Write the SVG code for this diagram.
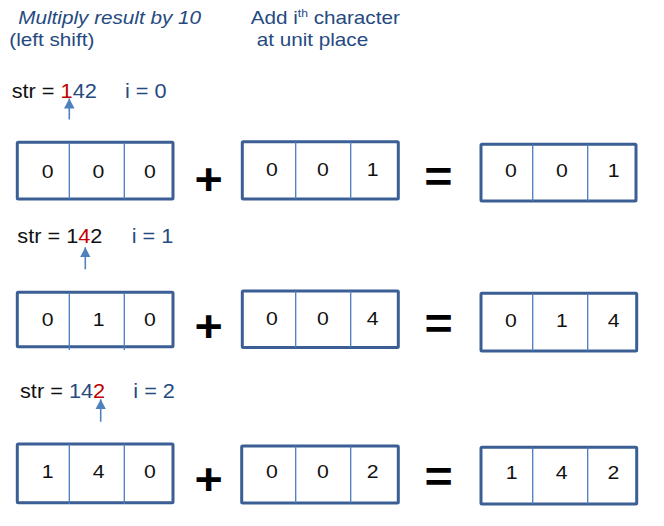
<svg xmlns="http://www.w3.org/2000/svg" width="664" height="526" viewBox="0 0 664 526">
<style>
.t{font-family:"Liberation Sans",Arial,sans-serif;}
.hd{font-size:18px;fill:#264a80;}
.st{font-size:20.5px;fill:#111111;}
.bl{fill:#264a80;}
.rd{fill:#c00000;}
.dg{font-size:18px;fill:#111111;text-anchor:middle;}
.op{font-family:"Liberation Sans",Arial,sans-serif;font-weight:bold;font-size:44px;fill:#000;text-anchor:middle;}
.box{fill:#fff;stroke:#3b5f94;stroke-width:3;}
.div{stroke:#4a7cc0;stroke-width:1.3;}
.arr{stroke:#4f81bd;stroke-width:1.6;fill:none;}
</style>
<defs>
<marker id="ah" markerWidth="12" markerHeight="12" refX="10" refY="6" orient="auto" markerUnits="userSpaceOnUse">
<path d="M0,0.7 L10,6 L0,11.3 Z" fill="#4f81bd"/>
</marker>
</defs>
<rect width="664" height="526" fill="#fff"/>

<g id="header">
<text class="t hd" font-style="italic" transform="translate(18.3 23.5) scale(1.15 1)">Multiply result by 10</text>
<text class="t hd" transform="translate(9.3 46) scale(1.15 1)">(left shift)</text>
<text class="t hd" transform="translate(250.7 23.5) scale(1.15 1)">Add i<tspan font-size="10.5" dy="-7">th</tspan><tspan dy="7"> character</tspan></text>
<text class="t hd" transform="translate(256.7 46) scale(1.15 1)">at unit place</text>
</g>

<g id="str-row1">
<text class="t st" transform="translate(11.7 98) scale(1.06 1)">str = <tspan class="rd">1</tspan><tspan class="bl">42</tspan></text>
<text class="t st bl" transform="translate(125 98) scale(1.06 1)">i = 0</text>
</g>
<g id="str-row2">
<text class="t st" transform="translate(17.3 243.3) scale(1.06 1)">str = 1<tspan class="rd">4</tspan>2</text>
<text class="t st bl" transform="translate(131.7 243.3) scale(1.06 1)">i = 1</text>
</g>
<g id="str-row3">
<text class="t st" transform="translate(20 398.3) scale(1.06 1)">str = <tspan class="bl">14</tspan><tspan class="rd">2</tspan></text>
<text class="t st bl" transform="translate(133.3 398.3) scale(1.06 1)">i = 2</text>
</g>

<g id="connectors">
<line class="arr" x1="69.3" y1="119.5" x2="69.3" y2="98.5" marker-end="url(#ah)"/>
<line class="arr" x1="85.3" y1="269.3" x2="85.3" y2="247.3" marker-end="url(#ah)"/>
<line class="arr" x1="100.7" y1="421.7" x2="100.7" y2="399.3" marker-end="url(#ah)"/>
</g>

<!-- Row 1 -->
<g id="r1a">
<rect class="box" x="17.3" y="142.3" width="155.7" height="56.7" rx="1"/>
<line class="div" x1="69.3" y1="142.3" x2="69.3" y2="199"/>
<line class="div" x1="124.3" y1="142.3" x2="124.3" y2="199"/>
<text class="t dg" transform="translate(47.7 177.7) scale(1.18 1)">0</text>
<text class="t dg" transform="translate(98.3 177.7) scale(1.18 1)">0</text>
<text class="t dg" transform="translate(150 177.7) scale(1.18 1)">0</text>
</g>
<g id="r1b">
<rect class="box" x="242.3" y="141.7" width="156" height="57.3" rx="1"/>
<line class="div" x1="295.7" y1="141.7" x2="295.7" y2="199"/>
<line class="div" x1="350.7" y1="141.7" x2="350.7" y2="199"/>
<text class="t dg" transform="translate(272 175.7) scale(1.18 1)">0</text>
<text class="t dg" transform="translate(323 175.7) scale(1.18 1)">0</text>
<text class="t dg" transform="translate(372.7 175.7) scale(1.18 1)">1</text>
</g>
<g id="r1c">
<rect class="box" x="481" y="144.3" width="155" height="56.7" rx="1"/>
<line class="div" x1="532.7" y1="144.3" x2="532.7" y2="201"/>
<line class="div" x1="587.7" y1="144.3" x2="587.7" y2="201"/>
<text class="t dg" transform="translate(511 176.7) scale(1.18 1)">0</text>
<text class="t dg" transform="translate(562 176.7) scale(1.18 1)">0</text>
<text class="t dg" transform="translate(613.7 176.7) scale(1.18 1)">1</text>
</g>

<!-- Row 2 -->
<g id="r2a">
<rect class="box" x="17.3" y="292.3" width="155.7" height="54.4" rx="1"/>
<line class="div" x1="69.3" y1="292.3" x2="69.3" y2="350"/>
<line class="div" x1="124.3" y1="292.3" x2="124.3" y2="350"/>
<text class="t dg" transform="translate(47.7 325.7) scale(1.18 1)">0</text>
<text class="t dg" transform="translate(98.7 325.7) scale(1.18 1)">1</text>
<text class="t dg" transform="translate(150 325.7) scale(1.18 1)">0</text>
</g>
<g id="r2b">
<rect class="box" x="242.3" y="291" width="156" height="56.5" rx="1"/>
<line class="div" x1="295.7" y1="291" x2="295.7" y2="347.5"/>
<line class="div" x1="350.7" y1="291" x2="350.7" y2="347.5"/>
<text class="t dg" transform="translate(272 325) scale(1.18 1)">0</text>
<text class="t dg" transform="translate(323 325) scale(1.18 1)">0</text>
<text class="t dg" transform="translate(372.7 325) scale(1.18 1)">4</text>
</g>
<g id="r2c">
<rect class="box" x="481" y="293.3" width="155.7" height="57.7" rx="1"/>
<line class="div" x1="532.7" y1="293.3" x2="532.7" y2="351"/>
<line class="div" x1="587.7" y1="293.3" x2="587.7" y2="351"/>
<text class="t dg" transform="translate(511 327.3) scale(1.18 1)">0</text>
<text class="t dg" transform="translate(562 327.3) scale(1.18 1)">1</text>
<text class="t dg" transform="translate(613.7 327.3) scale(1.18 1)">4</text>
</g>

<!-- Row 3 -->
<g id="r3a">
<rect class="box" x="17.3" y="444" width="155.7" height="58.7" rx="1"/>
<line class="div" x1="69.3" y1="444" x2="69.3" y2="504"/>
<line class="div" x1="124.3" y1="444" x2="124.3" y2="504"/>
<text class="t dg" transform="translate(47.7 478.3) scale(1.18 1)">1</text>
<text class="t dg" transform="translate(98.7 478.3) scale(1.18 1)">4</text>
<text class="t dg" transform="translate(150 478.3) scale(1.18 1)">0</text>
</g>
<g id="r3b">
<rect class="box" x="241.7" y="446" width="156.6" height="57" rx="1"/>
<line class="div" x1="295.7" y1="446" x2="295.7" y2="503"/>
<line class="div" x1="350.7" y1="446" x2="350.7" y2="503"/>
<text class="t dg" transform="translate(272 478.3) scale(1.18 1)">0</text>
<text class="t dg" transform="translate(323 478.3) scale(1.18 1)">0</text>
<text class="t dg" transform="translate(372.7 478.3) scale(1.18 1)">2</text>
</g>
<g id="r3c">
<rect class="box" x="481" y="447.3" width="155.7" height="56.7" rx="1"/>
<line class="div" x1="532.7" y1="447.3" x2="532.7" y2="504"/>
<line class="div" x1="587.7" y1="447.3" x2="587.7" y2="504"/>
<text class="t dg" transform="translate(511.7 479) scale(1.18 1)">1</text>
<text class="t dg" transform="translate(561.7 479) scale(1.18 1)">4</text>
<text class="t dg" transform="translate(613.3 479) scale(1.18 1)">2</text>
</g>

<g id="operators">
<text class="op" transform="translate(208.7 194.5) scale(1.1 1)">+</text>
<text class="op" transform="translate(438.5 192.3) scale(1.1 1)">=</text>
<text class="op" transform="translate(208.7 342.3) scale(1.1 1)">+</text>
<text class="op" transform="translate(438.7 339.4) scale(1.1 1)">=</text>
<text class="op" transform="translate(208.7 494.7) scale(1.1 1)">+</text>
<text class="op" transform="translate(438.7 492.4) scale(1.1 1)">=</text>
</g>
</svg>
